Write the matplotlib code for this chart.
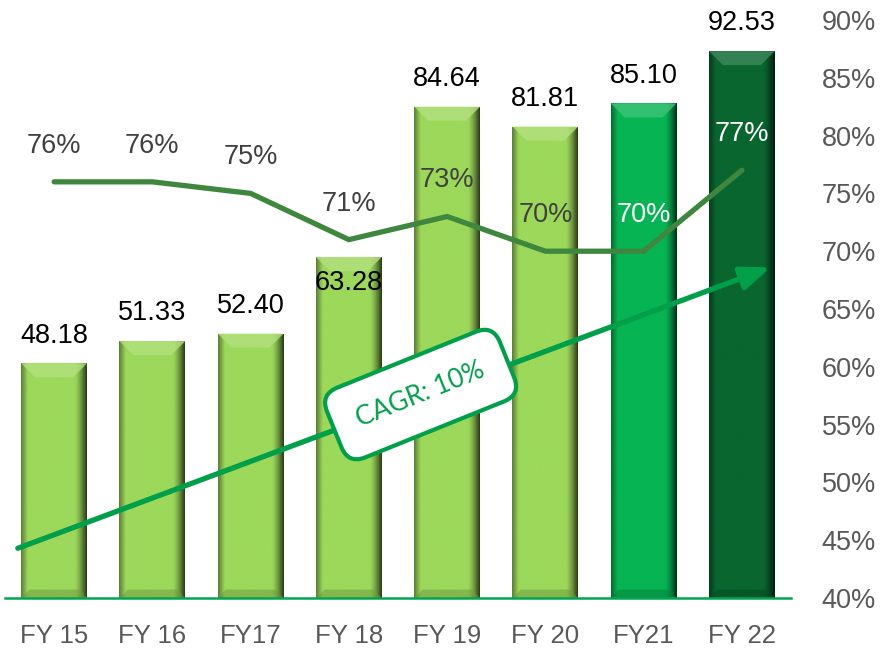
import numpy as np
import matplotlib
matplotlib.use("Agg")
import matplotlib.pyplot as plt
from matplotlib.patches import Polygon, FancyArrowPatch
from matplotlib.colors import to_rgb

# ---------------- data ----------------
categories = ["FY 15", "FY 16", "FY17", "FY 18", "FY 19", "FY 20", "FY21", "FY 22"]
revenue = [48.18, 51.33, 52.40, 63.28, 84.64, 81.81, 85.10, 92.53]
margin_pct = [76, 76, 75, 71, 73, 70, 70, 77]
pct_ticks = [40, 45, 50, 55, 60, 65, 70, 75, 80, 85, 90]
cagr_text = "CAGR: 10%"
cagr_start = (-0.37, 44.3)   # (category position, % axis)
cagr_end = (7.29, 68.6)

# ---------------- style ----------------
bar_colors = ["#9CD85A"] * 6 + ["#07B453", "#09662F"]
line_color = "#3F873F"
arrow_color = "#00A04B"
label_font = ["Liberation Sans", "DejaVu Sans"]
cat_font = ["Liberation Sans Narrow", "Liberation Sans", "DejaVu Sans"]

W, H = 884, 655
fig = plt.figure(figsize=(W / 100, H / 100), dpi=100)
ax_left, ax_bottom, ax_w, ax_h = 5 / W, 1 - 598 / H, 786 / W, 578 / H
ax = fig.add_axes([ax_left, ax_bottom, ax_w, ax_h])
ax2 = ax.twinx()

x = np.arange(len(categories))
ylo, yhi = 14.84, 96.95
bars = ax.bar(x, revenue, width=0.67, color=bar_colors, zorder=2)
ax.set_xlim(-0.5, len(categories) - 0.5)
ax.set_ylim(ylo, yhi)

# beveled look for bars
px_x = ax_w * W / (len(categories))
px_y = ax_h * H / (yhi - ylo)
bev_px = 14
bx, by = bev_px / px_x, bev_px / px_y
t = np.linspace(0, 1, 80)
prof = np.ones_like(t)
prof = np.where(t < 0.10, 0.60 + 0.40 * (t / 0.10), prof)
prof = np.where(t > 0.82, 1.0 - 0.72 * ((t - 0.82) / 0.18) ** 1.4, prof)
for b, c in zip(bars, bar_colors):
    x0, w, top = b.get_x(), b.get_width(), b.get_height()
    rgb = np.array(to_rgb(c))
    img = (prof[:, None] * rgb[None, :])[None, :, :]
    im = ax.imshow(img, extent=[x0, x0 + w, ylo, top], aspect="auto",
                   zorder=2.1, interpolation="bilinear")
    im.set_clip_path(b)
    light = np.clip(rgb + (1 - rgb) * 0.22, 0, 1)
    ax.add_patch(Polygon([(x0, top), (x0 + w, top), (x0 + w - bx, top - by),
                          (x0 + bx, top - by)], closed=True, fc=light, ec="none",
                         zorder=2.2, alpha=0.8))
    dark = rgb * 0.7
    ax.add_patch(Polygon([(x0, ylo), (x0 + w, ylo), (x0 + w - bx * 0.6, ylo + by * 0.6),
                          (x0 + bx * 0.6, ylo + by * 0.6)], closed=True, fc=dark,
                         ec="none", zorder=2.2, alpha=0.5))

# bar value labels
for i, (b, v) in enumerate(zip(bars, revenue)):
    off = -19 if categories[i] == "FY 18" else 20
    ax.annotate(f"{v:.2f}", (b.get_x() + b.get_width() / 2, b.get_height()),
                xytext=(0, off), textcoords="offset points", ha="center",
                va="center", fontsize=19.5, family=label_font, color="black",
                zorder=3)

ax.set_yticks([])
ax.set_xticks(x, categories)
ax.tick_params(axis="x", length=0, pad=19, labelsize=18.5, labelcolor="#595959")
for lab in ax.get_xticklabels():
    lab.set_family(cat_font)
for s in ["top", "left", "right"]:
    ax.spines[s].set_visible(False)
ax.spines["bottom"].set_color("#00A651")
ax.spines["bottom"].set_linewidth(1.8)

# margin line
ax2.plot(x, margin_pct, color=line_color, lw=3.8, solid_capstyle="round",
         solid_joinstyle="miter", zorder=4)
for i, v in enumerate(margin_pct):
    col = "white" if i >= 6 else "#404040"
    ax2.annotate(f"{v}%", (x[i], v), xytext=(0, 26), textcoords="offset points",
                 ha="center", va="center", fontsize=19.5, family=label_font,
                 color=col, zorder=5)
ax2.set_ylim(pct_ticks[0], pct_ticks[-1])
ax2.set_yticks(pct_ticks, [f"{v}%" for v in pct_ticks])
ax2.tick_params(axis="y", length=0, pad=22, labelsize=19.5, labelcolor="#595959")
for lab in ax2.get_yticklabels():
    lab.set_family(label_font)
for s in ax2.spines.values():
    s.set_visible(False)

# CAGR arrow
arr = FancyArrowPatch(cagr_start, cagr_end, arrowstyle="-|>,head_length=0.8,head_width=0.32",
                      mutation_scale=22, lw=3.8, color=arrow_color, shrinkA=0,
                      shrinkB=0, zorder=4)
ax2.add_patch(arr)
p0 = ax2.transData.transform(cagr_start)
p1 = ax2.transData.transform(cagr_end)
ang = np.degrees(np.arctan2(p1[1] - p0[1], p1[0] - p0[0]))
ax2.text(3.73, 57.6, cagr_text, rotation=ang + 1.5, rotation_mode="anchor", ha="center",
         va="center", fontsize=19, family=["Lato", "DejaVu Sans"], color=arrow_color,
         zorder=6,
         bbox=dict(boxstyle="round,pad=0.95,rounding_size=0.7", fc="white",
                   ec=arrow_color, lw=3))

fig.savefig("out.png", dpi=100)
